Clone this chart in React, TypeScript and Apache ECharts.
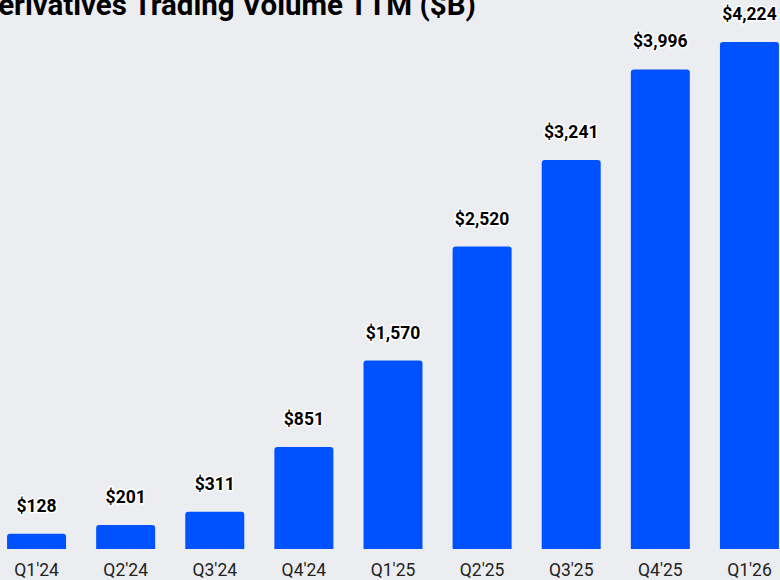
import React, { useEffect, useRef } from "react";
import * as echarts from "echarts";

const categories = ["Q1'24", "Q2'24", "Q3'24", "Q4'24", "Q1'25", "Q2'25", "Q3'25", "Q4'25", "Q1'26"];
const volumes = [128, 201, 311, 851, 1570, 2520, 3241, 3996, 4224];
const titleText = "Derivatives Trading Volume TTM ($B)";

export default function App() {
  const ref = useRef<HTMLDivElement>(null);
  useEffect(() => {
    if (!ref.current) return;
    const chart = echarts.init(ref.current, undefined, { renderer: "svg" });
    chart.setOption({
      animation: false,
      backgroundColor: "#ECEDF1",
      graphic: [
        {
          type: "text",
          left: -5,
          top: -10,
          style: {
            text: titleText,
            font: "bold 29.5px Roboto",
            fill: "#000000",
          },
        },
      ],
      grid: { left: 8, width: 802, top: 9, bottom: 31, containLabel: false },
      xAxis: {
        type: "category",
        data: categories,
        axisLine: { show: false },
        axisTick: { show: false },
        axisLabel: { fontFamily: "Roboto", fontSize: 17.5, color: "#222222", margin: 12 },
      },
      yAxis: {
        type: "value",
        min: 0,
        max: 4500,
        show: false,
        splitLine: { show: false },
      },
      series: [
        {
          type: "bar",
          data: volumes,
          barWidth: 59,
          itemStyle: { color: "#0052FF", borderRadius: [3, 3, 0, 0] },
          label: {
            show: true,
            position: "top",
            distance: 19,
            fontFamily: "Roboto",
            fontWeight: "bold",
            fontSize: 17.5,
            color: "#000000",
            textBorderColor: "#ffffff",
            textBorderWidth: 3,
            formatter: (p: any) => "$" + Number(p.value).toLocaleString("en-US"),
          },
        },
      ],
    });
    return () => chart.dispose();
  }, []);
  return (
    <div style={{ position: "fixed", left: 0, top: 0, width: 780, height: 580, overflow: "hidden", background: "#ECEDF1" }}>
      <div ref={ref} style={{ position: "absolute", left: -16, top: 0, width: 820, height: 580 }} />
    </div>
  );
}
